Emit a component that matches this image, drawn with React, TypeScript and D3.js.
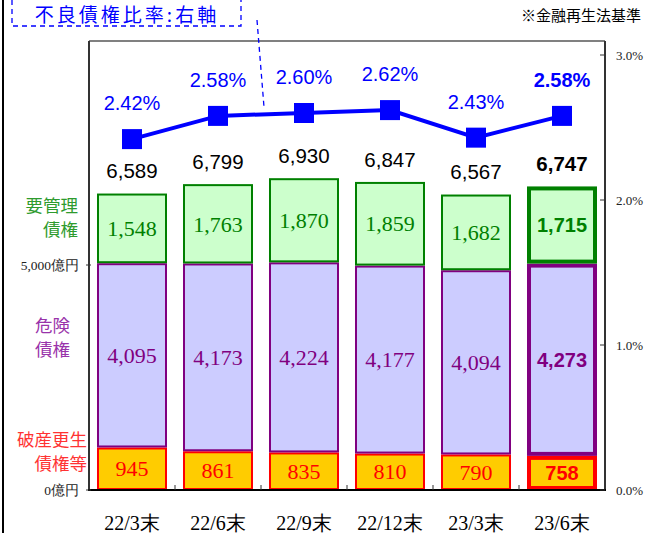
import React from "react";
import * as d3 from "d3";

const categories = ["22/3末", "22/6末", "22/9末", "22/12末", "23/3末", "23/6末"];
const bankrupt = [945, 861, 835, 810, 790, 758];
const doubtful = [4095, 4173, 4224, 4177, 4094, 4273];
const substandard = [1548, 1763, 1870, 1859, 1682, 1715];
const totals = [6589, 6799, 6930, 6847, 6567, 6747];
const ratios = [2.42, 2.58, 2.6, 2.62, 2.43, 2.58];
const leftTicks = [0, 5000];
const leftTickLabels = ["0億円", "5,000億円"];
const rightTicks = [0, 1, 2, 3];

const W = 659, H = 533;
const L = 89, R = 605, T = 41, B = 490;

const serif = "'Liberation Serif', 'Times New Roman', serif";
const sans = "'Liberation Sans', Arial, sans-serif";
const cjk = "'Noto Sans CJK JP', sans-serif";

export default function App() {
  const x = d3.scaleBand<string>().domain(categories).range([L, R]).paddingInner(0.186).paddingOuter(0.093);
  const yL = d3.scaleLinear().domain([0, 10000]).range([B, B - 450]);
  const yR = d3.scaleLinear().domain([0, 3]).range([B, B - 435]);
  const bw = x.bandwidth();
  const fmt = d3.format(",");
  const line = d3.line<number>().x((_, i) => x(categories[i])! + bw / 2).y((d) => yR(d));

  const segs = [
    { data: bankrupt, base: (i: number) => 0, fill: "#FFCC00", stroke: "#FF0000", text: "#FF0000" },
    { data: doubtful, base: (i: number) => bankrupt[i], fill: "#CCCCFF", stroke: "#800080", text: "#800080" },
    { data: substandard, base: (i: number) => bankrupt[i] + doubtful[i], fill: "#CCFFCC", stroke: "#008000", text: "#008000" },
  ];
  const last = categories.length - 1;

  return (
    <svg width={W} height={H} style={{ position: "absolute", left: 0, top: 0, background: "#fff" }}>
      <rect x={0} y={0} width={W} height={H} fill="#fff" />
      <line x1={3} y1={0} x2={3} y2={H} stroke="#000" strokeWidth={2} />
      {/* plot frame */}
      <line x1={L} y1={T} x2={R} y2={T} stroke="#808080" strokeWidth={2} />
      <line x1={L} y1={T} x2={L} y2={B} stroke="#333" strokeWidth={2} />
      <line x1={R} y1={T} x2={R} y2={B} stroke="#333" strokeWidth={2} />

      {/* bars */}
      {segs.map((s, si) =>
        s.data.map((v, i) => {
          const b = s.base(i);
          const y0 = yL(b), y1 = yL(b + v);
          const isLast = i === last;
          const sw = isLast ? 4 : 2;
          return (
            <g key={`${si}-${i}`}>
              <rect x={x(categories[i])! + sw / 2} y={y1 + sw / 2} width={bw - sw} height={y0 - y1 - sw}
                fill={s.fill} stroke={s.stroke} strokeWidth={sw} />
              <text x={x(categories[i])! + bw / 2} y={(y0 + y1) / 2} dy="0.35em" textAnchor="middle"
                fill={s.text} fontSize={isLast ? 20 : 22} fontWeight={isLast ? "bold" : "normal"}
                fontFamily={isLast ? sans : serif}>{fmt(v)}</text>
            </g>
          );
        })
      )}

      {/* bottom axis */}
      <line x1={L - 1} y1={B} x2={R + 1} y2={B} stroke="#000" strokeWidth={2} />
      {categories.slice(1).map((c, i) => {
        const xx = x(c)! - (x.step() - bw) / 2;
        return <line key={c} x1={xx} y1={B} x2={xx} y2={B - 5} stroke="#333" strokeWidth={1} />;
      })}
      {categories.map((c) => (
        <text key={c} x={x(c)! + bw / 2} y={523} dy="0.35em" textAnchor="middle" fontSize={20} fontFamily={serif} fill="#000">{c}</text>
      ))}

      {/* left ticks */}
      {leftTicks.map((t, i) => (
        <g key={t}>
          <line x1={L - 3} x2={L + 2} y1={yL(t)} y2={yL(t)} stroke="#333" />
          <text x={79} y={yL(t)} dy="0.35em" textAnchor="end" fontSize={13.5} fontFamily={serif} fill="#222">{leftTickLabels[i]}</text>
        </g>
      ))}
      {/* right ticks */}
      {rightTicks.map((t) => (
        <g key={t}>
          <line x1={R - 5} x2={R} y1={yR(t)} y2={yR(t)} stroke="#333" />
          <text x={616} y={yR(t)} dy="0.35em" fontSize={13} fontFamily={serif} fill="#222">{t.toFixed(1)}%</text>
        </g>
      ))}

      {/* left category labels */}
      <g fontFamily={cjk} fontSize={17.5} textAnchor="end">
        <text x={78} y={206} dy="0.35em" fill="#2E9B2E">要管理</text>
        <text x={78} y={230} dy="0.35em" fill="#2E9B2E">債権</text>
        <text x={70} y={326} dy="0.35em" fill="#9933AA">危険</text>
        <text x={70} y={350} dy="0.35em" fill="#9933AA">債権</text>
        <text x={87} y={440} dy="0.35em" fill="#FF3333">破産更生</text>
        <text x={87} y={464} dy="0.35em" fill="#FF3333">債権等</text>
      </g>

      {/* totals */}
      {totals.map((t, i) => (
        <text key={i} x={x(categories[i])! + bw / 2} y={yL(t) - 15} textAnchor="middle" fontSize={20.5}
          fontWeight={i === last ? "bold" : "normal"} fontFamily={sans} fill="#000">{fmt(t)}</text>
      ))}

      {/* ratio line */}
      <path d={line(ratios)!} fill="none" stroke="#0000FF" strokeWidth={4} />
      {ratios.map((r, i) => (
        <rect key={i} x={x(categories[i])! + bw / 2 - 10} y={yR(r) - 10} width={20} height={20} fill="#0000FF" />
      ))}
      {ratios.map((r, i) => (
        <text key={i} x={x(categories[i])! + bw / 2} y={yR(r) - 36} dy="0.35em" textAnchor="middle" fontSize={20}
          fontWeight={i === last ? "bold" : "normal"} fontFamily={sans} fill="#0000FF">{r.toFixed(2)}%</text>
      ))}

      {/* annotation box (top edge is off the page) */}
      <path d="M12,0 V26 H241 V0" fill="none" stroke="#0000FF" strokeWidth={1.3} strokeDasharray="5,4" />
      <text x={127} y={22} textAnchor="middle" fontSize={19} letterSpacing={3} fontFamily={cjk} fill="#0000FF">不良債権比率:右軸</text>
      <line x1={257} y1={20} x2={264} y2={107} stroke="#0000FF" strokeWidth={1.3} strokeDasharray="5,4" />

      <text x={641} y={16} dy="0.35em" textAnchor="end" fontSize={15} fontFamily={cjk} fill="#000">※金融再生法基準</text>
    </svg>
  );
}
